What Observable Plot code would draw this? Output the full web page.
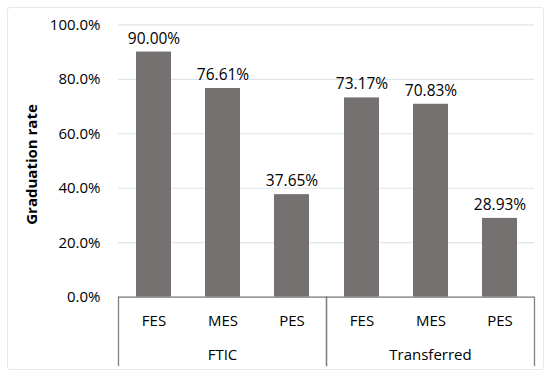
<!DOCTYPE html>
<html>
<head>
<meta charset="utf-8">
<script src="https://cdn.jsdelivr.net/npm/d3@7"></script>
<script src="https://cdn.jsdelivr.net/npm/@observablehq/plot@0.6"></script>
<style>
  html, body { margin: 0; padding: 0; background: #fff; }
  #wrap { position: relative; width: 550px; height: 380px; }
  #border { position: absolute; left: 7px; top: 7px; width: 535px; height: 361px;
            border: 1.5px solid #e4e9f0; border-radius: 3px; pointer-events: none; }
</style>
</head>
<body>
<div id="wrap"><div id="border"></div></div>
<script>
const groups = ["FTIC", "FTIC", "FTIC", "Transferred", "Transferred", "Transferred"];
const categories = ["FES", "MES", "PES", "FES", "MES", "PES"];
const rates = [0.9000, 0.7661, 0.3765, 0.7317, 0.7083, 0.2893];
const groupNames = ["FTIC", "Transferred"];
const categoryNames = ["FES", "MES", "PES"];
const yTicks = [0, 0.2, 0.4, 0.6, 0.8, 1.0];
const yTitle = "Graduation rate";

const data = rates.map((r, i) => ({group: groups[i], category: categories[i], rate: r}));

const W = 550, H = 380, mT = 24.3, mB = 83.3, mL = 118, mR = 16;
const plotH = H - mT - mB;

const chart = Plot.plot({
  width: W, height: H,
  marginTop: mT, marginBottom: mB, marginLeft: mL, marginRight: mR,
  style: {fontFamily: "'Open Sans', sans-serif", fontSize: "15px", color: "#000", background: "transparent", overflow: "visible"},
  fx: {domain: groupNames, padding: 0, label: null},
  x: {domain: categoryNames, paddingInner: 0.5, paddingOuter: 0.25, label: null},
  y: {domain: [0, 1], label: null},
  marks: [
    Plot.gridY(yTicks, {stroke: "#dfe4eb", strokeOpacity: 1, strokeWidth: 1.2}),
    Plot.barY(data, {fx: "group", x: "category", y: "rate", fill: "#767171"}),
    Plot.text(data, {fx: "group", x: "category", y: "rate", text: d => d3.format(".2%")(d.rate), dy: -13.5, fontSize: 15.5, fill: "#000"}),
    Plot.ruleY([0], {stroke: "#7f7f7f", strokeWidth: 1.3}),
    Plot.frame({anchor: "left", stroke: "#7f7f7f", strokeWidth: 1.3, insetTop: plotH, insetBottom: -68.3}),
    Plot.frame({anchor: "right", stroke: "#7f7f7f", strokeWidth: 1.3, insetTop: plotH, insetBottom: -68.3}),
    Plot.axisY(yTicks, {tickFormat: ".1%", tickSize: 0, tickPadding: 18, fontSize: 15, label: null}),
    Plot.text([{group: groupNames[0], t: yTitle}], {fx: "group", text: "t", frameAnchor: "left", dx: -86, dy: 3.5, rotate: -90, textAnchor: "middle", fontSize: 15, fontWeight: "bold", fill: "#000"}),
    Plot.axisX({tickSize: 0, tickPadding: 18, fontSize: 15, label: null}),
    Plot.axisFx({anchor: "bottom", tickSize: 0, tickPadding: 52, fontSize: 15, label: null})
  ]
});
const wrap = document.getElementById("wrap");
chart.style.position = "absolute";
chart.style.left = "0";
chart.style.top = "0";
wrap.insertBefore(chart, wrap.firstChild);
</script>
</body>
</html>
